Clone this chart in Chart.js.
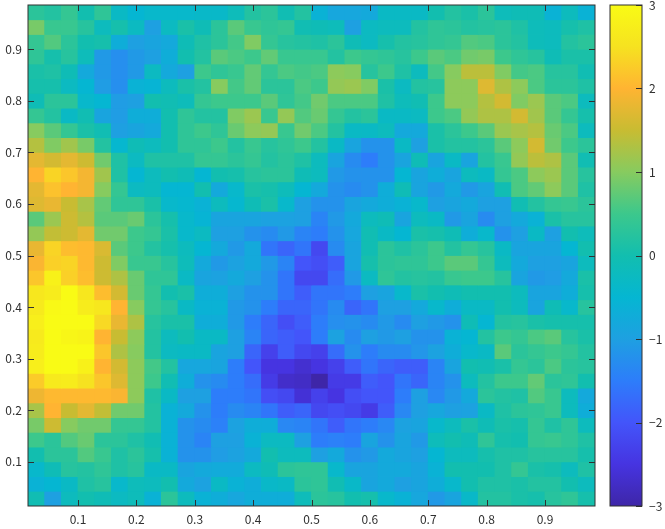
<!DOCTYPE html>
<html>
<head>
<meta charset="utf-8">
<script src="https://cdn.jsdelivr.net/npm/chart.js@4/dist/chart.umd.js"></script>
<style>
    html, body { margin: 0; padding: 0; background: #fff; }
    #wrap { position: relative; width: 665px; height: 529px; }
    canvas { position: absolute; top: 0; }
    #heat { left: 0; }
    #bar { left: 600px; }
</style>
</head>
<body>
<div id="wrap">
    <canvas id="heat" width="600" height="529"></canvas>
    <canvas id="bar" width="65" height="529"></canvas>
</div>
<script>
// значения по строкам сверху вниз (y от большего к меньшему), 34 x 34
const rowValues = [
    [0.3,0.2,0.4,0,0.35,-0.3,-0.5,-0.4,-0.4,-0.4,-0.35,-0.35,-0.15,0.2,0.3,-0.05,0.2,-0.6,-0.85,-0.85,-0.8,-0.3,-0.3,-0.3,0,0.2,0.1,0.3,-0.15,-0.1,-0.1,-0.6,-0.2,-0.6],
    [0.9,0.45,0.45,0.25,-0.2,0.05,-0.25,-1,-0.25,0.1,-0.1,0.3,0.7,0.45,0.35,0.4,-0.05,-0.1,-0.15,-1,-0.25,-0.2,-0.2,0.2,0.35,0.3,0.2,0.25,0.3,0.15,-0.15,-0.2,0.05,0.15],
    [0.4,0.65,0.3,0,0.05,-0.7,-1,-0.9,-0.8,-0.1,0.15,0.3,0.55,0.95,0.4,0.25,0.2,0.15,0.3,-0.1,-0.25,0.05,0.2,0.25,0.35,0.4,0.65,0.6,0.3,0.2,-0.15,-0.2,0.2,0.3],
    [0.35,0.05,0.25,-0.15,-1.1,-1.25,-1.1,-1,-0.7,0,0.2,0.7,0.6,0.5,0.75,0.45,0.45,0.45,0.2,0.5,0.4,0.35,0.25,0.5,0.7,0.6,0.85,0.9,0.5,0.35,0.25,-0.1,0.1,0.1],
    [0.1,0.15,-0.1,-0.8,-1.1,-1.25,-1.1,-0.25,-0.8,-1,0.5,0.35,0.45,0.75,0.4,0.6,0.55,0.6,1.05,1,0.25,0.5,0.15,-0.2,0.55,1,1.4,1.4,0.95,0.55,0.6,0.25,0.25,-0.05],
    [0.05,0.05,-0.25,-0.5,-1.05,-1.25,-0.6,-0.55,-0.2,0.1,0.2,1,0.55,0.75,0.3,0.3,0.6,0.5,1.1,1.15,0.95,0.1,-0.25,0.2,0.25,1.05,1.05,1.7,1.3,1.05,0.6,0.3,0.3,0.15],
    [-0.1,0.3,0.3,-0.4,-0.5,-1.05,-1,0,-0.05,-0.15,0.4,0.5,0.5,0.5,0.7,0.35,0.55,0.85,0.6,0.6,0.6,0.15,-0.15,-0.05,0.5,1.05,1.05,1.35,1.6,0.95,1.15,0.7,0.6,-0.2],
    [0.4,0.2,-0.3,-0.05,-0.9,-1.05,-0.7,-0.7,0,0.35,0.2,0.2,0.95,1.15,0.45,1.1,0.65,0.8,0.4,0.2,0.3,-0.3,-0.3,-0.25,0.5,0.6,1.1,1.3,1.3,1.6,1.2,0.7,0.4,0.05],
    [1,0.7,0.4,0.1,-0.05,-1,-0.9,-0.8,0,0.35,0.5,0.35,0.8,1.05,1.1,0.45,0.85,0.6,0.2,-0.3,-0.3,-0.2,-0.8,-0.8,0.1,0.3,0.5,0.7,1.15,1.25,1.35,0.8,0.6,-0.2],
    [1.35,0.95,1.2,0.9,0.2,-0.45,-0.1,-0.2,0,0.35,0.35,0.5,0.2,0.45,0.25,0.35,0.5,0.2,-0.3,-0.9,-1.2,-1.2,-0.3,-1,0.1,0.2,0.2,0.3,0.7,1.05,1.6,0.85,0.5,0.3],
    [1.75,1.6,1.75,1.55,0.85,0.15,-0.25,0.15,0.15,0.15,0.4,0.4,0.3,0.4,0.2,0.3,0.15,-0.2,-0.9,-1.3,-1.5,-1.2,-0.9,-0.1,-0.9,-0.3,-0.9,0.2,0.45,1.1,1.4,1.3,0.7,-0.05],
    [2,2.35,2.2,1.9,1.2,0.15,-0.5,-0.2,0,-0.1,-0.5,0,0.05,0.25,0.3,0.3,-0.1,-0.2,-1.1,-1.2,-1.2,-1.2,-0.5,-0.9,-0.7,-0.9,-0.2,-0.3,0.4,0.6,1.05,1.15,0.7,0.25],
    [1.75,2.15,2,1.9,1,0.4,-0.25,-0.2,-0.5,-0.5,0,-0.8,-0.4,0.1,0.05,-0.15,-0.5,-0.8,-1.2,-1.3,-1.2,-0.7,-0.1,-0.9,-1.1,-0.8,-1.1,-0.9,-0.05,0.6,0.75,1.05,0.7,0.15],
    [1.7,1.8,1.5,1.25,0.75,0.35,0.35,0.1,-0.4,-0.45,-0.6,-0.2,-0.45,-0.1,0.1,-0.4,-1,-1.2,-1.2,-0.9,-0.8,-0.7,-0.6,-0.4,-1,-0.9,-0.8,-1,-1,-0.05,0.2,0.4,0.45,0.3],
    [0.7,1.15,1.55,1.35,0.7,0.7,0.8,0.3,0.05,-0.4,-0.55,-0.9,-0.9,-0.9,-0.95,-0.95,-1,-1.4,-1.1,-0.8,-0.2,-0.1,-0.9,-0.2,-0.3,-1.1,-0.9,-1.3,-1,-0.8,-0.6,0.1,0.25,0.25],
    [1.1,1.45,1.55,1.75,0.85,0.85,0.5,0.4,0.1,-0.4,-0.25,-1,-1,-1.2,-1.3,-1.1,-1.4,-1.5,-1.2,-0.85,-0.05,-0.3,-0.5,0.1,0.05,-0.1,-0.7,-0.4,-1.2,-1,-0.3,-1,0,-0.15],
    [1.8,2.35,2.1,2.05,1.65,0.7,0.5,0.2,0.05,-0.2,-0.5,-0.8,-1.1,-0.8,-1.6,-1.8,-1.6,-2.2,-1.3,-0.9,-0.05,0.3,0.15,0.3,0.5,0.2,0.4,0.25,-0.3,-0.9,-0.9,-0.9,-0.5,0],
    [1.95,2.3,2.35,2.05,1.55,0.95,0.45,0.45,0.25,-0.15,-0.8,-1.1,-0.95,-0.8,-1.1,-1.4,-2,-2.1,-1.9,-0.9,0.05,0.3,0.35,0.35,0.5,0.7,0.7,0.4,-0.2,-0.8,-1,-1,-0.9,-0.2],
    [2.2,2.8,2.3,2.1,1.55,1.3,0.8,0.35,0.35,-0.3,-0.9,-0.95,-0.8,-1,-1.2,-1.6,-2.2,-2.2,-1.7,-1.1,-0.25,0.35,0.2,0.25,0.2,0.45,0.5,0.5,0.25,-0.9,-1.1,-1.05,-0.8,0.1],
    [2.6,2.7,3,2.6,2.1,1.6,0.8,0.4,0,0.1,-0.7,-0.7,-1,-1.2,-1.2,-1.6,-1.9,-1.6,-1.6,-1.5,-1,-0.9,-0.4,0.1,0,-0.1,0,0,0,-0.2,-0.9,-0.9,-0.7,0.05],
    [2.65,2.95,3,2.7,2.6,2,1,0.4,0.25,-0.3,-0.6,-0.6,-1.1,-1.2,-1.5,-1.8,-1.8,-1.6,-1.3,-1.8,-1.6,-1,-1,-0.8,-0.4,-0.7,-0.3,-0.3,0,-0.2,-0.9,-0.1,-0.4,0.25],
    [2.75,3,3,3,2.4,1.8,1.3,0.25,0.1,0.1,-0.7,-0.7,-1.1,-1.5,-1.8,-2.1,-1.9,-1.5,-1.25,-1.2,-1.3,-1.1,-1.3,-1,-1.1,-1.2,-0.1,-0.5,0.2,0.25,0.1,0.05,0.05,0.05],
    [2.65,3,2.9,2.85,2,1.5,1.05,0.2,-0.2,0,-0.3,-0.3,-1,-1.4,-1.8,-1.9,-2,-1.5,-0.95,-1.3,-1,-1.1,-1,-1.2,-1.2,-0.6,-0.5,0.2,0.5,0.4,0.6,0.7,0.25,0.1],
    [2.7,3,3,3,2.2,1.3,1,0.2,-0.25,-0.3,-0.3,-0.9,-1,-1.8,-2.3,-1.9,-2.2,-2.3,-1.7,-1.2,-1.5,-1.3,-1.3,-1.15,-0.95,-0.7,-0.4,-0.3,0.7,0.3,0.4,0.5,0.4,0.2],
    [2.75,3,3,2.8,2,1.6,1.05,0.55,0.2,-0.85,-0.85,-0.9,-1.5,-2,-2.5,-2.5,-2.65,-2.5,-2.3,-1.9,-1.6,-1.8,-1.9,-1.9,-1.4,-0.9,0,-0.05,0.1,0.4,0.3,0.6,0.3,0.25],
    [2.25,2.65,2.7,2.5,2.2,1.7,1.05,0.5,-0.05,-0.7,-1.2,-1.3,-1.5,-1.7,-2.4,-2.7,-2.75,-3,-2.4,-2.4,-1.9,-2,-1.6,-1.8,-1.4,-1.2,-0.2,0.2,0.5,0.5,0.75,0.3,0.35,0],
    [1.85,2.05,2.05,2.05,2.05,1.95,1.05,0.15,-0.3,-1,-1,-1.5,-1.5,-1.6,-2.1,-2.2,-2.6,-2.3,-2.5,-2.1,-2,-2,-1.5,-1,-1.35,-1.1,-0.8,0.3,0.2,0.15,0.65,0.45,-0.2,-0.8],
    [1.25,2,1.5,1.75,1.45,0.85,0.85,0.2,-0.6,-0.8,-1.2,-1.5,-1.3,-1.4,-1.6,-1.9,-1.8,-2.2,-2.1,-2.2,-2.4,-1.9,-1.35,-1,-0.85,-1,-0.95,-0.3,0.15,0.3,0.35,0.45,-0.2,-0.7],
    [0.9,1.55,1,0.85,0.85,0.4,0.4,0.2,-0.6,-1.2,-1.3,-1.45,-0.95,-0.7,-0.7,-1.35,-1.4,-1.6,-1.9,-1.6,-1.5,-1.35,-0.95,-0.9,-0.4,-0.2,0.1,-0.1,0.1,0.05,0.4,0.15,0.35,-0.2],
    [0.5,0.3,0.65,0.8,0.3,0.3,0.15,-0.05,-0.6,-1.2,-1.4,-1,-1,-0.6,-0.25,-0.25,-1,-1.5,-1.45,-1.5,-0.9,-1.2,-0.9,-1.1,-0.15,0,-0.1,0.35,0.05,0,0.4,0.45,0.35,0.15],
    [0,0.3,0.3,0.65,0.45,0.15,0.3,0.05,-0.6,-1.2,-1.2,-1.05,-0.95,-0.8,0,-0.2,-0.2,-1,-0.8,-1.2,-1.1,-0.8,-0.9,-1,-0.5,-0.2,-0.2,0.05,0.15,0.15,0.25,0.25,0.25,0.05],
    [-0.4,-0.1,0.25,0.2,0.35,0.15,0.25,-0.3,-0.3,-0.9,-0.8,-0.75,-0.75,-0.25,-0.1,0.3,0.35,0.35,-0.4,-0.9,-0.9,-0.8,-0.8,-0.9,-0.6,0,0,0,0.15,0.4,0.1,0.05,-0.2,0.15],
    [-0.6,-0.5,-0.3,0.15,0.25,-0.4,-0.15,-0.2,0,-0.8,-0.95,-0.3,-0.6,-0.7,-0.35,-0.3,0.3,0.35,-0.05,-0.35,-0.9,-0.8,-1,-0.9,-0.7,-0.4,0,0.15,0.15,0.1,0.2,0.2,0,-0.2],
    [-0.05,-1,-0.2,0,-0.1,-0.25,-0.15,-0.6,0.3,-0.2,-0.6,-0.7,-0.85,-0.7,-0.7,-0.7,-0.15,0.3,0.25,0,0.05,-0.4,-0.6,-0.85,-1.1,-0.9,-0.35,0.2,0.2,0.1,0.05,0.25,0.35,0.05]
];
const gridIndex = rowValues[0].map((v, i) => i + 1);
const gridStep = 1 / 35;
const axisTicks = [0.1, 0.2, 0.3, 0.4, 0.5, 0.6, 0.7, 0.8, 0.9];
const barTicks = [-3, -2, -1, 0, 1, 2, 3];

// опорные цвета шкалы от -3 до 3
const colorStops = [
    [62, 38, 168], [70, 52, 225], [67, 85, 250], [45, 125, 250],
    [30, 160, 225], [5, 182, 210], [18, 190, 175], [60, 200, 140],
    [135, 203, 95], [200, 188, 50], [255, 180, 50], [246, 226, 32], [249, 251, 21]
];

function valueColor(v) {
    const pos = Math.min(Math.max((v + 3) * 2, 0), colorStops.length - 1);
    const i = Math.min(Math.floor(pos), colorStops.length - 2);
    const t = pos - i;
    const c = colorStops[i].map((s, k) => Math.round(s + (colorStops[i + 1][k] - s) * t));
    return `rgb(${c[0]},${c[1]},${c[2]})`;
}

const tickFont = { family: '"Noto Sans CJK JP"', size: 12 };
const inkColor = '#303030';

// убираем запас под подписи, чтобы область графика совпала с рамкой
function noLabelPadding(s) {
    s.paddingTop = 0;
    s.paddingBottom = 0;
    s.paddingLeft = 0;
    s.paddingRight = 0;
}

// рамка и внутренние засечки как в MATLAB
const heatFrame = {
    id: 'heatFrame',
    afterDatasetsDraw(chart) {
        const { ctx, chartArea: a, scales } = chart;
        ctx.save();
        ctx.strokeStyle = inkColor;
        ctx.lineWidth = 1;
        ctx.strokeRect(a.left, a.top, a.right - a.left, a.bottom - a.top);
        ctx.beginPath();
        axisTicks.forEach(v => {
            const px = Math.round(scales.x.getPixelForValue(v)) + 0.5;
            const py = Math.round(scales.y.getPixelForValue(v)) + 0.5;
            ctx.moveTo(px, a.bottom); ctx.lineTo(px, a.bottom - 6);
            ctx.moveTo(px, a.top); ctx.lineTo(px, a.top + 6);
            ctx.moveTo(a.left, py); ctx.lineTo(a.left + 6, py);
            ctx.moveTo(a.right, py); ctx.lineTo(a.right - 6, py);
        });
        ctx.stroke();
        ctx.restore();
    }
};

const barFrame = {
    id: 'barFrame',
    afterDatasetsDraw(chart) {
        const { ctx, chartArea: a, scales } = chart;
        ctx.save();
        ctx.strokeStyle = inkColor;
        ctx.lineWidth = 1;
        ctx.strokeRect(a.left, a.top, a.right - a.left, a.bottom - a.top);
        ctx.beginPath();
        barTicks.forEach(v => {
            const py = Math.round(scales.y.getPixelForValue(v)) + 0.5;
            ctx.moveTo(a.right, py); ctx.lineTo(a.right - 6, py);
        });
        ctx.stroke();
        ctx.restore();
    }
};

function heatScale(position, fit) {
    return {
        type: 'linear',
        position: position,
        offset: false,
        min: 0.5 * gridStep,
        max: 34.5 * gridStep,
        afterBuildTicks: s => { s.ticks = axisTicks.map(v => ({ value: v })); },
        afterFit: s => { fit(s); noLabelPadding(s); },
        grid: { display: false, drawTicks: false },
        border: { display: false },
        ticks: {
            font: tickFont,
            color: inkColor,
            padding: 6,
            maxRotation: 0,
            autoSkip: false,
            callback: v => v.toFixed(1)
        }
    };
}

new Chart(document.getElementById('heat'), {
    type: 'bar',
    data: {
        datasets: rowValues.map((row, r) => ({
            data: row.map((v, c) => ({
                x: gridIndex[c] * gridStep,
                y: [(34 - r - 0.5) * gridStep, (34 - r + 0.5) * gridStep]
            })),
            backgroundColor: row.map(valueColor),
            grouped: false,
            barPercentage: 1,
            categoryPercentage: 1,
            borderWidth: 0,
            inflateAmount: 0.4
        }))
    },
    options: {
        responsive: false,
        animation: false,
        layout: { padding: { top: 5, right: 5, left: 0, bottom: 0 } },
        plugins: { legend: { display: false }, tooltip: { enabled: false } },
        scales: {
            x: heatScale('bottom', s => { s.height = 23; }),
            y: heatScale('left', s => { s.width = 28; })
        }
    },
    plugins: [heatFrame]
});

new Chart(document.getElementById('bar'), {
    type: 'bar',
    data: {
        labels: ['c'],
        datasets: [{
            data: [[-3, 3]],
            backgroundColor: ctx => {
                const a = ctx.chart.chartArea;
                if (!a) return colorStops[0];
                const g = ctx.chart.ctx.createLinearGradient(0, a.bottom, 0, a.top);
                colorStops.forEach((c, i) => {
                    g.addColorStop(i / (colorStops.length - 1), `rgb(${c[0]},${c[1]},${c[2]})`);
                });
                return g;
            },
            barPercentage: 1,
            categoryPercentage: 1,
            borderWidth: 0
        }]
    },
    options: {
        responsive: false,
        animation: false,
        layout: { padding: { top: 5, left: 10, right: 0, bottom: 23 } },
        plugins: { legend: { display: false }, tooltip: { enabled: false } },
        scales: {
            x: { display: false },
            y: {
                position: 'right',
                min: -3,
                max: 3,
                afterBuildTicks: s => { s.ticks = barTicks.map(v => ({ value: v })); },
                afterFit: s => { s.width = 23; noLabelPadding(s); },
                grid: { display: false, drawTicks: false },
                border: { display: false },
                ticks: {
                    font: tickFont,
                    color: inkColor,
                    padding: 7,
                    autoSkip: false,
                    callback: v => String(v).replace('-', '\u2212')
                }
            }
        }
    },
    plugins: [barFrame]
});
</script>
</body>
</html>
